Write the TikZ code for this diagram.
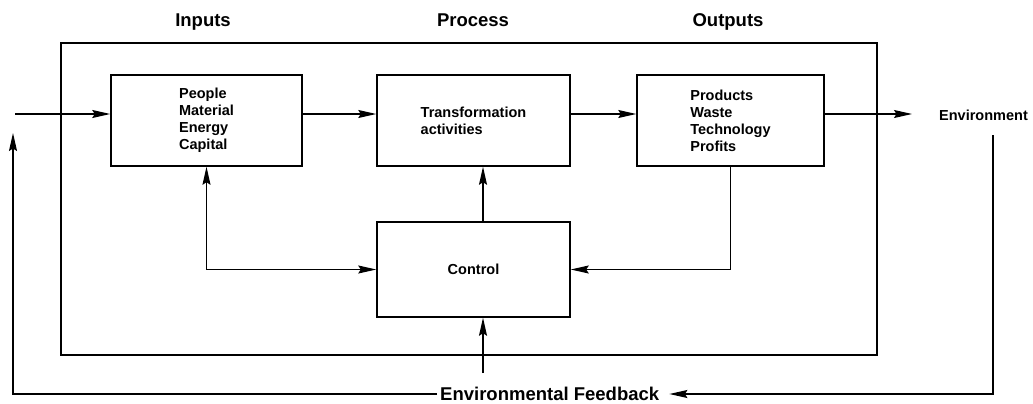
\documentclass[tikz,border=0pt]{standalone}
\usepackage{fontspec}
\setmainfont{Liberation Sans}
\usetikzlibrary{arrows.meta}
\begin{document}
\begin{tikzpicture}[x=1pt,y=-1pt,
  every node/.style={font=\bfseries},
  boxtext/.style={font=\fontsize{14.5}{17}\selectfont\bfseries, align=left},
  header/.style={font=\fontsize{18.5}{22}\selectfont\bfseries, anchor=base},
  block/.style={draw, line width=1.5pt, inner sep=0pt, boxtext},
  frame/.style={draw, line width=1.5pt, inner sep=0pt},
  >={Stealth[length=18pt,width=8pt,inset=2.5pt]},
  link/.style={line width=1.2pt, ->},
  twoway/.style={line width=1.2pt, <->}]
\useasboundingbox (0,0) rectangle (1033,404);

% system boundary
\node[frame, minimum width=816pt, minimum height=312pt] (sys) at (469,199) {};

% column headings
\node[header] (hin)  at (203,27) {Inputs};
\node[header] (hpro) at (473,27) {Process};
\node[header] (hout) at (728,27) {Outputs};

% blocks
\node[block, minimum width=191pt, minimum height=91pt] (in)   at (206.5,120.5) {People\\Material\\Energy\\Capital};
\node[block, minimum width=193pt, minimum height=91pt] (proc) at (473.5,120.5) {Transformation\\activities};
\node[block, minimum width=187pt, minimum height=91pt] (out)  at (730.5,120.5) {Products\\Waste\\Technology\\Profits};
\node[block, minimum width=193pt, minimum height=95pt] (ctl)  at (473.5,269.5) {Control};

% outside labels
\node[boxtext, anchor=base west, inner sep=0pt] (env) at (939,120) {Environment};
\node[header, anchor=west, inner sep=3pt] (fb) at (437,394) {Environmental Feedback};

% free ends
\coordinate (src)    at (15,114);
\coordinate (envin)  at (912,114);
\coordinate (envout) at (993,135);
\coordinate (fbup)   at (13,133);
\coordinate (ctlsrc) at (483,373);

% main flow
\draw[link] (src) -- (src -| in.west);
\draw[link] (in.east |- src) -- (proc.west |- src);
\draw[link] (proc.east |- src) -- (out.west |- src);
\draw[link] (out.east |- src) -- (envin);

% control loops
\draw[twoway] (in.south) |- (ctl.west);
\draw[link] (out.south) |- (ctl.east);
\draw[link] (ctl.north -| ctlsrc) -- (proc.south -| ctlsrc);
\draw[link] (ctlsrc) -- (ctlsrc |- ctl.south);

% environmental feedback
\draw[link, shorten >=7pt] (envout) |- (fb.east);
\draw[link] (fb.west) -| (fbup);
\end{tikzpicture}
\end{document}
